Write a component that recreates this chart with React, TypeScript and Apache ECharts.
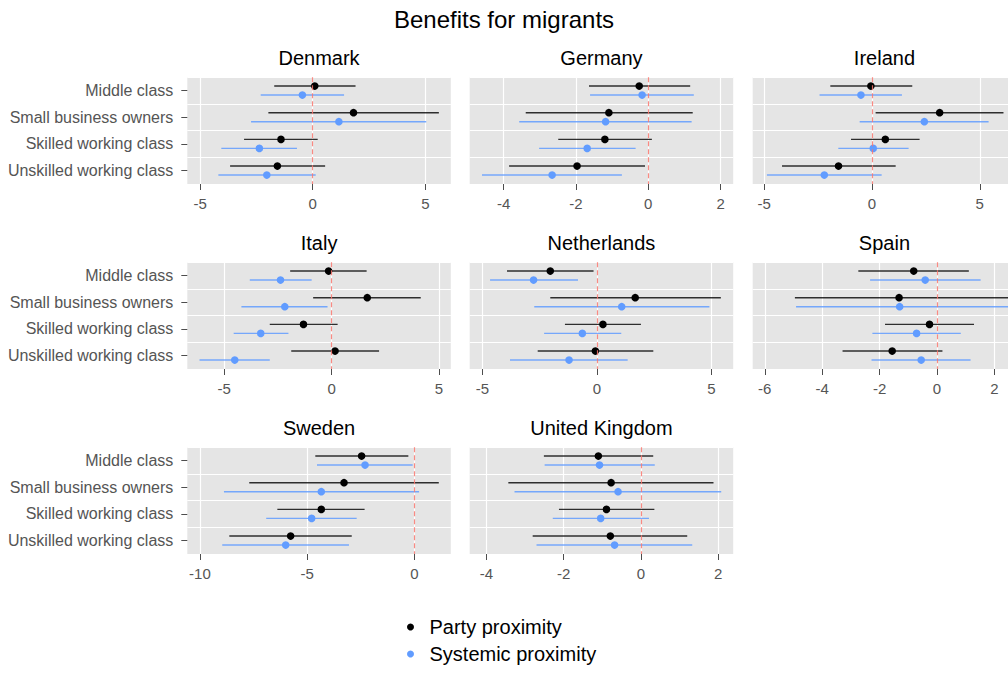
import React, { useEffect, useRef } from "react";
import * as echarts from "echarts";

// Occupational classes shown on each panel's vertical axis (top to bottom)
const categories = [
  "Middle class",
  "Small business owners",
  "Skilled working class",
  "Unskilled working class",
];

const countries = [
  "Denmark",
  "Germany",
  "Ireland",
  "Italy",
  "Netherlands",
  "Spain",
  "Sweden",
  "United Kingdom",
];

// Each row: [estimate, lower bound, upper bound], in category order
const denmarkParty = [[0.09, -1.71, 1.9], [1.81, -1.97, 5.6], [-1.41, -3.05, 0.22], [-1.57, -3.67, 0.55]];
const denmarkSystemic = [[-0.46, -2.31, 1.39], [1.16, -2.74, 5.04], [-2.37, -4.06, -0.7], [-2.04, -4.19, 0.13]];
const germanyParty = [[-0.25, -1.64, 1.16], [-1.09, -3.39, 1.23], [-1.2, -2.49, 0.1], [-1.97, -3.85, -0.09]];
const germanySystemic = [[-0.17, -1.61, 1.26], [-1.18, -3.57, 1.2], [-1.69, -3.02, -0.35], [-2.66, -4.6, -0.73]];
const irelandParty = [[-0.05, -1.93, 1.87], [3.14, 0.17, 6.1], [0.62, -0.97, 2.21], [-1.55, -4.17, 1.1]];
const irelandSystemic = [[-0.51, -2.43, 1.39], [2.43, -0.57, 5.41], [0.06, -1.56, 1.7], [-2.21, -4.87, 0.45]];
const italyParty = [[-0.14, -1.93, 1.63], [1.66, -0.86, 4.15], [-1.31, -2.88, 0.28], [0.16, -1.88, 2.21]];
const italySystemic = [[-2.38, -3.81, -0.93], [-2.18, -4.2, -0.19], [-3.3, -4.56, -2.01], [-4.51, -6.15, -2.88]];
const netherlandsParty = [[-2.04, -3.93, -0.15], [1.67, -2.04, 5.41], [0.26, -1.4, 1.92], [-0.07, -2.59, 2.46]];
const netherlandsSystemic = [[-2.77, -4.67, -0.83], [1.08, -2.74, 4.91], [-0.64, -2.31, 1.06], [-1.22, -3.8, 1.34]];
const spainParty = [[-0.81, -2.74, 1.11], [-1.32, -4.95, 3.0], [-0.26, -1.81, 1.29], [-1.56, -3.29, 0.19]];
const spainSystemic = [[-0.41, -2.33, 1.52], [-1.3, -4.91, 2.9], [-0.71, -2.25, 0.83], [-0.55, -2.28, 1.17]];
const swedenParty = [[-2.46, -4.62, -0.28], [-3.28, -7.7, 1.14], [-4.34, -6.39, -2.32], [-5.77, -8.63, -2.92]];
const swedenSystemic = [[-2.3, -4.54, -0.08], [-4.34, -8.88, 0.22], [-4.79, -6.91, -2.69], [-6.0, -8.96, -3.05]];
const ukParty = [[-1.1, -2.51, 0.32], [-0.77, -3.43, 1.88], [-0.89, -2.12, 0.35], [-0.79, -2.8, 1.2]];
const ukSystemic = [[-1.07, -2.49, 0.36], [-0.59, -3.27, 2.08], [-1.04, -2.28, 0.21], [-0.68, -2.7, 1.33]];

const partyByCountry = [denmarkParty, germanyParty, irelandParty, italyParty, netherlandsParty, spainParty, swedenParty, ukParty];
const systemicByCountry = [denmarkSystemic, germanySystemic, irelandSystemic, italySystemic, netherlandsSystemic, spainSystemic, swedenSystemic, ukSystemic];

// Free x scales per panel: [min, max] and the tick values labelled
const xRanges = [
  [-5.57, 6.13],
  [-4.94, 2.35],
  [-5.53, 6.69],
  [-6.72, 5.55],
  [-5.56, 5.95],
  [-6.42, 2.76],
  [-10.59, 1.7],
  [-4.43, 2.39],
];
const xTicks = [
  [-5, 0, 5],
  [-4, -2, 0, 2],
  [-5, 0, 5],
  [-5, 0, 5],
  [-5, 0, 5],
  [-6, -4, -2, 0, 2],
  [-10, -5, 0],
  [-4, -2, 0, 2],
];

const seriesNames = ["Party proximity", "Systemic proximity"];
const seriesColors = ["#000000", "#619CFF"];

const FONT = "'Liberation Sans', Arial, Helvetica, sans-serif";
const AXIS_TEXT = "#555555";

// Facet layout
const colLeft = [187.3, 469.7, 752.7];
const rowTop = [77.3, 262.3, 447.3];
const panelW = 263.5;
const panelH = 106.7;

export default function App() {
  const ref = useRef<HTMLDivElement>(null);

  useEffect(() => {
    if (!ref.current) return;
    const chart = echarts.init(ref.current, undefined, { renderer: "svg" });

    const grids: any[] = [];
    const xAxes: any[] = [];
    const yAxes: any[] = [];
    const series: any[] = [];
    const graphics: any[] = [
      {
        type: "text",
        x: 504,
        y: 19,
        style: {
          text: "Benefits for migrants",
          fontSize: 24,
          fontFamily: FONT,
          fill: "#000",
          align: "center",
          verticalAlign: "middle",
        },
      },
    ];

    countries.forEach((country, i) => {
      const col = i % 3;
      const row = Math.floor(i / 3);
      const left = colLeft[col];
      const top = rowTop[row];

      grids.push({
        left,
        top,
        width: panelW,
        height: panelH,
        show: true,
        backgroundColor: "#E5E5E5",
        borderWidth: 0,
        containLabel: false,
        outerBoundsMode: "none",
      });

      xAxes.push({
        type: "value",
        gridIndex: i,
        min: xRanges[i][0],
        max: xRanges[i][1],
        axisLine: { show: false, onZero: false },
        axisTick: {
          show: true,
          length: 6,
          customValues: xTicks[i],
          lineStyle: { color: "#4d4d4d", width: 1 },
        },
        axisLabel: {
          show: true,
          customValues: xTicks[i],
          fontSize: 15,
          fontFamily: FONT,
          color: AXIS_TEXT,
          margin: 12,
          showMinLabel: true,
          showMaxLabel: true,
          hideOverlap: false,
        },
        splitLine: { show: true, lineStyle: { color: "#ffffff", width: 1.2 } },
      });

      yAxes.push({
        type: "category",
        gridIndex: i,
        data: categories,
        inverse: true,
        axisLine: { show: false, onZero: false },
        axisTick: {
          show: col === 0,
          alignWithLabel: true,
          length: 6,
          lineStyle: { color: "#4d4d4d", width: 1 },
        },
        axisLabel: {
          show: col === 0,
          fontSize: 16,
          fontFamily: FONT,
          color: AXIS_TEXT,
          margin: 14,
          interval: 0,
        },
        splitLine: { show: true, interval: 0, lineStyle: { color: "#ffffff", width: 1.2 } },
      });

      // Dashed reference line at zero
      series.push({
        type: "scatter",
        name: "zero-" + country,
        xAxisIndex: i,
        yAxisIndex: i,
        data: [],
        z: 1,
        silent: true,
        markLine: {
          silent: true,
          symbol: "none",
          animation: false,
          label: { show: false },
          lineStyle: { color: "rgba(248,118,109,0.85)", type: [5, 3], width: 1.2 },
          data: [{ xAxis: 0 }],
        },
      });

      [partyByCountry[i], systemicByCountry[i]].forEach((rows, s) => {
        const color = seriesColors[s];
        const offset = s === 0 ? -4.6 : 4.4;
        series.push({
          type: "custom",
          name: seriesNames[s],
          xAxisIndex: i,
          yAxisIndex: i,
          z: 3,
          itemStyle: { color },
          encode: { x: [1, 2, 3], y: 0 },
          data: rows.map((r, k) => [k, r[0], r[1], r[2]]),
          renderItem: (_params: any, api: any) => {
            const cat = api.value(0);
            const y = api.coord([0, cat])[1] + offset;
            const xe = api.coord([api.value(1), cat])[0];
            const xl = api.coord([api.value(2), cat])[0];
            const xh = api.coord([api.value(3), cat])[0];
            return {
              type: "group",
              children: [
                {
                  type: "line",
                  shape: { x1: xl, y1: y, x2: xh, y2: y },
                  style: { stroke: color, lineWidth: 1.4, opacity: s === 0 ? 0.8 : 0.85 },
                },
                {
                  type: "circle",
                  shape: { cx: xe, cy: y, r: 3.8 },
                  style: { fill: color },
                },
              ],
            };
          },
        });
      });

      graphics.push({
        type: "text",
        x: left + panelW / 2,
        y: top - 19,
        style: {
          text: country,
          fontSize: 20,
          fontFamily: FONT,
          fill: "#000",
          align: "center",
          verticalAlign: "middle",
        },
      });
    });

    chart.setOption({
      animation: false,
      textStyle: { fontFamily: FONT },
      grid: grids,
      xAxis: xAxes,
      yAxis: yAxes,
      series,
      graphic: graphics,
      legend: {
        show: true,
        data: seriesNames,
        orient: "vertical",
        left: 407,
        top: 617,
        padding: 0,
        itemWidth: 28,
        itemHeight: 7,
        itemGap: 7,
        icon: "circle",
        selectedMode: false,
        textStyle: { fontSize: 20, fontFamily: FONT, color: "#000" },
      },
    });

    return () => {
      chart.dispose();
    };
  }, []);

  return (
    <div
      ref={ref}
      style={{ position: "absolute", left: 0, top: 0, width: 1008, height: 673, overflow: "hidden" }}
    />
  );
}
